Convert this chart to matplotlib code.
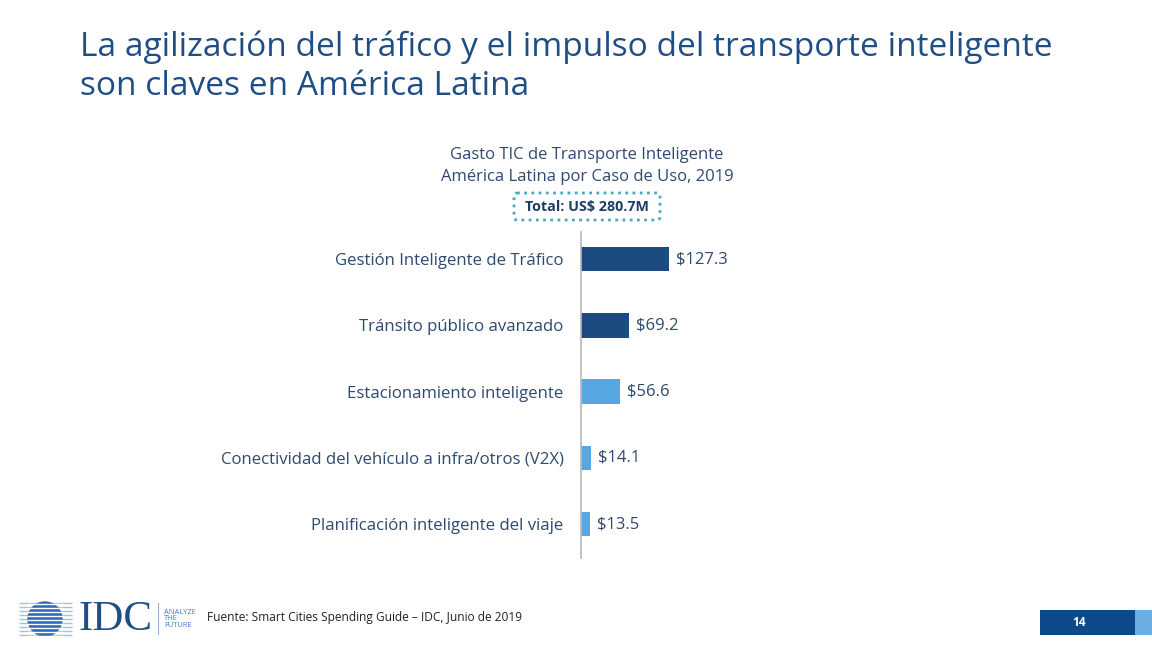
import matplotlib
matplotlib.use("Agg")
import matplotlib.pyplot as plt
from matplotlib.patches import Rectangle, FancyBboxPatch, Circle

plt.rcParams['font.family'] = ['Open Sans', 'DejaVu Sans']

categories = [
    "Gestión Inteligente de Tráfico",
    "Tránsito público avanzado",
    "Estacionamiento inteligente",
    "Conectividad del vehículo a infra/otros (V2X)",
    "Planificación inteligente del viaje",
]
values = [127.3, 69.2, 56.6, 14.1, 13.5]
value_labels = ["$127.3", "$69.2", "$56.6", "$14.1", "$13.5"]
bar_colors = ["#1b4b7f", "#1b4b7f", "#57a7e3", "#57a7e3", "#57a7e3"]

title = "La agilización del tráfico y el impulso del transporte inteligente\nson claves en América Latina"
subtitle = "Gasto TIC de Transporte Inteligente\nAmérica Latina por Caso de Uso, 2019"
total_text = "Total: US$ 280.7M"
source_text = "Fuente: Smart Cities Spending Guide – IDC, Junio de 2019"
page_number = "14"

W, H = 1152, 645
fig = plt.figure(figsize=(W / 100, H / 100), dpi=100)
fig.patch.set_facecolor("white")

# overlay axes in pixel coordinates for decorations
ov = fig.add_axes([0, 0, 1, 1])
ov.set_xlim(0, W)
ov.set_ylim(H, 0)
ov.axis("off")

navy = "#1f4e85"
txt = "#2e4a6e"

ov.text(80, 67, title, fontsize=24.1, color=navy, va="center", ha="left", linespacing=1.23)
ov.text(587, 166, subtitle, fontsize=12, color="#2f4a72", ha="center", va="center", linespacing=1.5)

box = FancyBboxPatch((514, 193), 146, 27, boxstyle="round,pad=0,rounding_size=3",
                     fill=False, edgecolor="#4aaabd", linewidth=2.0, linestyle=(0, (1, 1.6)))
ov.add_patch(box)
ov.text(587, 207, total_text, fontsize=10.3, fontweight="bold", color="#1f3c66", ha="center", va="center")

# main bar axes
ax_left, ax_right = 581, 901
ax_top, ax_bottom = 232, 558
ax = fig.add_axes([ax_left / W, 1 - ax_bottom / H, (ax_right - ax_left) / W, (ax_bottom - ax_top) / H])
ax.patch.set_alpha(0)
px_per_unit = 88 / 127.3
ax.set_xlim(0, (ax_right - ax_left) / px_per_unit)
ax.set_ylim(4.51, -0.41)
y = list(range(len(categories)))
ax.barh(y, values, height=0.37, color=bar_colors)
for yi, v, lab in zip(y, values, value_labels):
    ax.annotate(lab, (v, yi), xytext=(5, 0), textcoords="offset points",
                ha="left", va="center", fontsize=12, color=txt)
ax.set_yticks(y)
ax.set_yticklabels(categories, fontsize=12.1, color=txt)
ax.tick_params(axis="y", length=0, pad=12.5)
ax.set_xticks([])
for s in ["top", "right", "bottom"]:
    ax.spines[s].set_visible(False)
ax.spines["left"].set_color("#b8b8b8")
ax.spines["left"].set_linewidth(1.2)

# footer: IDC logo approximation
cx, cy, r = 45, 619, 17
for i in range(9):
    yy = 603 + i * 4
    ov.plot([19, 72], [yy, yy], color="#9cc3e6", lw=1.0, solid_capstyle="butt")
circ = Circle((cx, cy), r, color="#2d6db5", zorder=3)
ov.add_patch(circ)
for i in range(10):
    yy = 602 + i * 4 + 2
    ov.plot([cx - r - 1, cx + r + 1], [yy, yy], color="white", lw=1.0, zorder=4, solid_capstyle="butt")
ov.text(79, 620, "IDC", family=["Liberation Serif", "DejaVu Serif"], fontsize=31, color=navy,
        ha="left", va="center")
ov.plot([158, 158], [603, 634], color="#9ab2cc", lw=0.8)
ov.text(164, 619, "ANALYZE\nTHE\nFUTURE", fontsize=5.4, color="#3d7cc0", ha="left", va="center", linespacing=0.95)
ov.text(207, 618, source_text, fontsize=8.6, color="#222222", ha="left", va="center")

# page number box
ov.add_patch(Rectangle((1040, 610), 95, 25, color="#0c4a8a", lw=0))
ov.add_patch(Rectangle((1135, 610), 17, 25, color="#6aaee2", lw=0))
ov.text(1079, 622, page_number, fontsize=8.5, fontweight="bold", color="white", ha="center", va="center")

fig.savefig("out.png", dpi=100, facecolor="white")
